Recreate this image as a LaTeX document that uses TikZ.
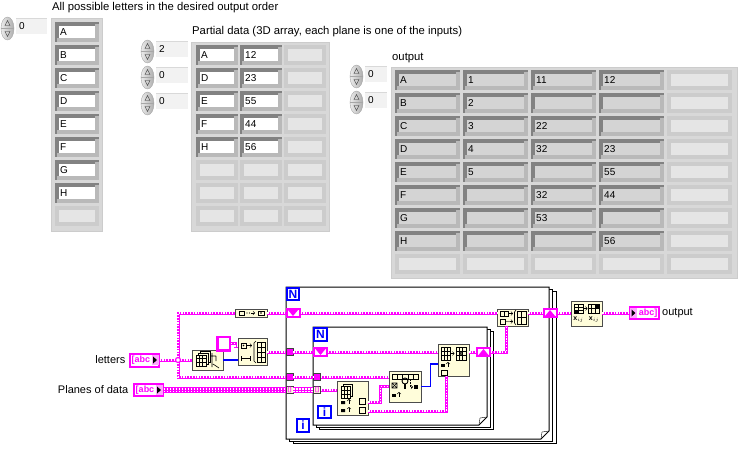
\documentclass[tikz,border=0pt]{standalone}
\usepackage{fontspec}
\setmainfont{Liberation Sans}
\usetikzlibrary{calc, positioning}

\definecolor{lvpink}{RGB}{255,0,255}
\definecolor{lvblue}{RGB}{0,0,255}
\definecolor{lvfunc}{RGB}{255,253,218}
\definecolor{panelgray}{RGB}{216,216,216}
\definecolor{celldark}{RGB}{130,130,130}
\definecolor{celllight}{RGB}{185,185,185}
\definecolor{cellgray}{RGB}{212,212,212}
\definecolor{cellempty}{RGB}{229,229,229}
\definecolor{emptyedge}{RGB}{204,204,204}
\definecolor{boxgray}{RGB}{242,242,242}

\tikzset{
  paneltxt/.style={font=\fontsize{11.3}{13}\selectfont, anchor=west, inner sep=0},
  celltxt/.style={font=\fontsize{10}{12}\selectfont, anchor=west, inner sep=0},
  diagtxt/.style={font=\fontsize{11}{13}\selectfont, inner sep=0},
  cellon/.style={fill=white, draw=celldark, line width=3.5},
  cellgr/.style={fill=cellgray, draw=celldark, line width=3.5},
  celloff/.style={fill=cellempty, draw=emptyedge, line width=3.5},
  lit/.style={draw=celllight, line width=3.5},
  arrframe/.style={fill=panelgray, draw=gray!40},
  numbox/.style={fill=boxgray},
  spin/.pic={
    \shade[left color=gray!15, right color=gray!65, draw=gray!70] (0,0) ellipse [x radius=6.5, y radius=11.5];
    \draw[gray!70] (-6.5,0) -- (6.5,0);
    \draw[gray!40!black, line width=.4] (-2.5,-3) -- (2.5,-3) -- (0,-8) -- cycle;
    \draw[gray!40!black, line width=.4] (-2.5,3) -- (2.5,3) -- (0,8) -- cycle;
  },
  loopfr/.style={draw=black, line width=1, fill=white},
  lvterm/.style={draw=lvblue, line width=2, fill=white, text=lvblue, font=\bfseries\fontsize{12}{12}\selectfont, minimum size=12.5, inner sep=0},
  lvsr/.style={draw=lvpink, line width=2, fill=white, minimum width=13, minimum height=8, inner sep=0},
  srdown/.style={lvsr, path picture={\fill[lvpink] ([xshift=1.5pt,yshift=-1pt]path picture bounding box.north west) -- ([xshift=-1.5pt,yshift=-1pt]path picture bounding box.north east) -- ([yshift=1pt]path picture bounding box.south) -- cycle;}},
  srup/.style={lvsr, path picture={\fill[lvpink] ([xshift=1.5pt,yshift=1pt]path picture bounding box.south west) -- ([xshift=-1.5pt,yshift=1pt]path picture bounding box.south east) -- ([yshift=-1pt]path picture bounding box.north) -- cycle;}},
  tunnel/.style={draw=gray!50!black, fill=lvpink, minimum size=7, inner sep=0, line width=0.8},
  tunarr/.style={tunnel, fill=lvfunc, text=lvpink, font=\bfseries\fontsize{6}{6}\selectfont},
  func/.style={draw=black!70, fill=lvfunc, line width=0.9, inner sep=0},
  strconst/.style={draw=lvpink, line width=2.5, fill=white, inner sep=0},
  ctl/.style={draw=lvpink, line width=2, fill=white, text=lvpink, font=\bfseries\fontsize{9}{9}\selectfont, inner sep=0},
  glyph/.style={draw=black, line width=0.6},
  wire1d/.style={draw=lvpink, line width=3, postaction={draw=white, line width=1.2, dash pattern=on 1.2pt off 1.6pt}},
  wire3d/.style={draw=lvpink, line width=6, postaction={draw=white, line width=3.6, dash pattern=on 1.5pt off 1.5pt}, postaction={draw=lvpink, line width=1}},
  wireblue/.style={draw=lvblue, line width=1.3},
}

\begin{document}
\begin{tikzpicture}[x=1pt, y=-1pt]
\useasboundingbox[fill=white] (0,0) rectangle (746,467);

% front panel
\node[paneltxt] (tLetters) at (52,8) {All possible letters in the desired output order};
\node[paneltxt] (tPartial) at (192,32) {Partial data (3D array, each plane is one of the inputs)};
\node[paneltxt] (tOutput) at (392,58) {output};

\draw[arrframe] (51,18) rectangle (102,231);
\draw[arrframe] (191,42) rectangle (329,231);
\draw[arrframe] (391,67) rectangle (737,278);

\foreach \sx/\sy/\w/\v [count=\n] in {1/17/31/0, 141/40/32/2, 141/66/32/0, 141/92/32/0, 350/65/22/0, 350/91/22/0} {
  \pic at ({\sx+6.5},{\sy+11.5}) {spin};
  \fill[numbox] ({\sx+15},{\sy+1}) rectangle ++(\w,16);
  \draw[gray!30] ({\sx+15},{\sy+1}) -- ++(\w,0);
  \node[celltxt] (idx\n) at ({\sx+18},{\sy+9}) {\v};
}

% letters array
\foreach \t [count=\k from 0] in {A,B,C,D,E,F,G,H} {
  \draw[cellon] (57,{24+23*\k}) rectangle ++(40,16);
  \draw[lit] (97,{24+23*\k}) -- ++(0,16) -- ++(-40,0);
  \node[celltxt] (let\k) at (60,{32+23*\k}) {\t};
}
\draw[celloff] (57,208) rectangle ++(40,16);

% partial data
\foreach \a/\b [count=\k from 0] in {A/12, D/23, E/55, F/44, H/56} {
  \foreach \j in {0,1} {
    \draw[cellon] ({198+44*\j},{47+23*\k}) rectangle ++(38,16);
    \draw[lit] ({236+44*\j},{47+23*\k}) -- ++(0,16) -- ++(-38,0);
  }
  \node[celltxt] (pa\k) at (201,{55+23*\k}) {\a};
  \node[celltxt] (pb\k) at (245,{55+23*\k}) {\b};
}
\foreach \k in {0,...,7} \draw[celloff] (286,{47+23*\k}) rectangle ++(38,16);
\foreach \k in {5,6,7} \foreach \j in {0,1} \draw[celloff] ({198+44*\j},{47+23*\k}) rectangle ++(38,16);

% output array
\foreach \a/\b/\c/\d [count=\k from 0] in {A/1/11/12, B/2/{}/{}, C/3/22/{}, D/4/32/23, E/5/{}/55, F/{}/32/44, G/{}/53/{}, H/{}/{}/56} {
  \foreach \j in {0,...,3} {
    \draw[cellgr] ({397+68*\j},{72+23*\k}) rectangle ++(61,16);
    \draw[lit] ({458+68*\j},{72+23*\k}) -- ++(0,16) -- ++(-61,0);
  }
  \node[celltxt] (oa\k) at (400,{80+23*\k}) {\a};
  \node[celltxt] (ob\k) at (468,{80+23*\k}) {\b};
  \node[celltxt] (oc\k) at (536,{80+23*\k}) {\c};
  \node[celltxt] (od\k) at (604,{80+23*\k}) {\d};
}
\foreach \k in {0,...,8} \draw[celloff] (669,{72+23*\k}) rectangle ++(61,16);
\foreach \j in {0,...,3} \draw[celloff] ({397+68*\j},256) rectangle ++(61,16);

% loop frames
\foreach \d in {7,3.5} \draw[loopfr] ({286+\d},{287+0.7*\d}) rectangle ({549+\d},{439+0.7*\d});
\draw[loopfr] (286,287) -- (549,287) -- (549,431) -- (541,439) -- (286,439) -- cycle;
\draw (541,439) -- (542,432) -- (549,431);
\foreach \d in {6,3} \draw[loopfr] ({313+\d},{327+0.7*\d}) rectangle ({487+\d},{425+0.7*\d});
\draw[loopfr] (313,327) -- (487,327) -- (487,417) -- (479,425) -- (313,425) -- cycle;
\draw (479,425) -- (480,418) -- (487,417);

\node[lvterm] (nOut) at (293,294) {N};
\node[lvterm] (iOut) at (303,425.5) {i};
\node[lvterm] (nIn) at (320.5,334.5) {N};
\node[lvterm] (iIn) at (324.5,412) {i};

% shift registers and tunnels
\node[srdown] (srOL) at (293,313) {};
\node[srup] (srOR) at (550,313) {};
\node[srdown] (srIL) at (320.5,352) {};
\node[srup] (srIR) at (483.5,352) {};
\node[tunnel] (tA) at (289.5,352) {};
\node[tunnel] (tB) at (289.5,377) {};
\node[tunarr] (tC) at (289.5,390) {[]};
\node[tunnel] (tBi) at (317,377) {};
\node[tunarr] (tCi) at (317,390) {[]};

% functions
\node[func, minimum width=32, minimum height=8] (fInit) at (251,313) {};
\node[func, minimum width=31, minimum height=20] (fSize) at (207.5,360) {};
\node[strconst, minimum width=12.5, minimum height=13.5] (fConst) at (223.5,343.5) {};
\node[func, minimum width=29, minimum height=27] (fIArr) at (252.5,352) {};
\node[func, minimum width=31, minimum height=17] (fBuild) at (512.5,317.5) {};
\node[func, minimum width=31, minimum height=25] (fTrans) at (586.5,313.5) {};
\node[func, minimum width=31, minimum height=34] (fIdx) at (352.5,398) {};
\node[func, minimum width=32, minimum height=31] (fSearch) at (405,386.5) {};
\node[func, minimum width=31, minimum height=32] (fRepl) at (453.5,360) {};

% terminals
\node[ctl, minimum width=29, minimum height=13] (letters) at (144,360) {\hspace*{-6pt}[abc};
\node[ctl, minimum width=29, minimum height=12] (planes) at (148,390) {\hspace*{-6pt}[abc};
\node[ctl, minimum width=29, minimum height=12] (out) at (644.5,313) {\hspace*{7pt}abc]};
\node[diagtxt, left=3pt of letters] (lLetters) {letters};
\node[diagtxt, left=4pt of planes] (lPlanes) {Planes of data};
\node[diagtxt, right=2pt of out] (lOut) {output};
\foreach \n in {letters, planes} {
  \fill[lvpink!35] ($(\n.east)+(-8,-5)$) rectangle ($(\n.east)+(-1,5)$);
  \fill ($(\n.east)+(-6.5,-3.5)$) -- ++(4,3.5) -- ++(-4,3.5) -- cycle;
}
\fill[lvpink!35] ($(out.west)+(1,-5)$) rectangle ($(out.west)+(8,5)$);
\fill ($(out.west)+(2.5,-3.5)$) -- ++(4,3.5) -- ++(-4,3.5) -- cycle;

% wires
\coordinate (jn) at (178,360);
\draw[wire1d] (letters.east) -- (jn);
\draw[wire1d] (jn) -- (fSize.west);
\draw[wire1d] (jn) |- (fInit.west);
\draw[wire1d] (jn) |- (tB.west);
\draw[wire1d] (fInit.east) -- (srOL.west);
\draw[wireblue] (fSize.east) -- (fSize.east -| fIArr.west);
\draw[wire1d] (fConst.east) -- ++(4,0) |- ($(fIArr.west)+(0,-6)$);
\draw[wire1d] (fIArr.east) -- (tA.west);
\draw[wire3d] (planes.east) -- (tC.west);
\draw[wire1d] (srOL.east) -- (srOL.east -| fBuild.west);
\draw[wire1d] (srOL.east -| fBuild.east) -- (srOR.west);
\draw[wire1d] (tA.east) -- (srIL.west);
\draw[wire1d] (srIL.east) -- (srIL.east -| fRepl.west);
\draw[wire1d] (srIL.east -| fRepl.east) -- (srIR.west);
\draw[wire1d] (srIR.east) -| ($(fBuild.south)+(-6,0)$);
\draw[wire1d] (tB.east) -- (tBi.west);
\draw[wire1d] (tBi.east) -- (tBi.east -| fSearch.west);
\draw[wire3d] (tC.east) -- (tCi.west);
\draw[wire1d] (tCi.east) -- (tCi.east -| fIdx.west);
\draw[wire1d] ($(fIdx.east)+(0,4)$) -- ++(12,0) |- (fSearch.west);
\draw[wire1d] ($(fIdx.east)+(0,13)$) -| ($(fRepl.south)+(-7,0)$);
\draw[wireblue] (fSearch.east) -- ++(9,0) |- ($(fRepl.west)+(0,4)$);
\draw[wire1d] (srOR.east) -- (srOR.east -| fTrans.west);
\draw[wire1d] (srOR.east -| fTrans.east) -- (out.west);
\draw[lvpink, line width=1.2, fill=white] (jn) circle (2.5);

% icons
\draw[glyph] (239,311) rectangle ++(5,4);
\fill (247,313) circle (.6) (249.5,313) circle (.6);
\draw[glyph, ->] (251,313) -- (255,313);
\draw[glyph] (258,311) rectangle ++(6,4);
\fill (261,313) circle (.9);

\foreach \d in {4,2,0} \draw[glyph, fill=lvfunc] ({196+\d},{355-\d}) rectangle ++(10,11);
\draw[glyph] (199.3,355) -- (199.3,366) (202.7,355) -- (202.7,366) (196,358.7) -- (206,358.7) (196,362.3) -- (206,362.3);
\draw[glyph] (212,353) -- (212,367) (210,356) -- (216,356) (216,356) -- (216,361) (213,364) -- (219,368);

\draw[glyph] (241,343) rectangle ++(5,5);
\fill (243.5,345.5) circle (.9);
\draw[glyph, ->] (247,345.5) -- (252,345.5);
\draw[glyph] (241,356) -- (241,361) (241,358.5) -- (250,358.5) (250,356) -- (250,361);
\draw[glyph] (256,341) -- (254,343) -- (254,361) -- (256,363);
\draw[glyph] (257,342) rectangle (265,362);
\draw[glyph] (261,342) -- (261,362) (257,347) -- (265,347) (257,352) -- (265,352) (257,357) -- (265,357);

\draw[glyph] (500,311) rectangle ++(8,5) (504,311) -- (504,316);
\draw[glyph, ->] (509,313.5) -- (513,313.5);
\draw[glyph] (500,319) rectangle ++(5,5);
\fill (507,321.5) circle (.6) (509,321.5) circle (.6);
\draw[glyph, ->] (510,321.5) -- (513,321.5);
\draw[glyph] (516,310) -- (514.5,312) -- (514.5,323) -- (516,325);
\draw[glyph] (517,311) rectangle (526,324) (521.5,311) -- (521.5,324) (517,317.5) -- (526,317.5);

\draw[glyph] (574,304) rectangle (583,313) (578.5,304) -- (578.5,313) (574,307) -- (583,307) (574,310) -- (583,310);
\fill (574,310) rectangle (578.5,313);
\draw[glyph, ->] (584,308.5) -- (587.5,308.5);
\draw[glyph] (588,304) rectangle (599,313) (591.7,304) -- (591.7,313) (595.3,304) -- (595.3,313) (588,308.5) -- (599,308.5);
\fill (595.3,304) rectangle (599,308.5);
\node[inner sep=0, font=\fontsize{7}{7}\selectfont] (xij1) at (578.5,320) {$\mathbf{x}_{ij}$};
\node[inner sep=0, font=\fontsize{7}{7}\selectfont] (xij2) at (594,320) {$\mathbf{x}_{ij}$};

\draw[glyph, fill=lvfunc] (343,384) rectangle (352,396);
\draw[glyph, fill=lvfunc] (341,386) rectangle (350,398);
\draw[glyph] (344,386) -- (344,398) (347,386) -- (347,398) (341,390) -- (350,390) (341,394) -- (350,394);
\fill (341,401) rectangle (345,404) (341,409) rectangle (345,412);
\draw[glyph, ->] (349,404) -- (349,399);
\draw[glyph, ->] (349,412) -- (349,407);
\draw[glyph] (359,398) rectangle ++(6,6) (359,407) rectangle ++(6,6);

\draw[glyph] (392,374) rectangle (418,379) (397,374) -- (397,379) (402,374) -- (402,379) (408,374) -- (408,379) (413,374) -- (413,379);
\draw[glyph, line width=.9] (405,381) circle (3);
\draw[glyph, line width=1.2] (405,384) -- (405,389);
\draw[glyph] (392,383) rectangle ++(5,5) (392,383) -- (397,388) (397,383) -- (392,388);
\draw[glyph, densely dotted, ->] (410,380) -- (410,387) -- (413,387);
\fill (414,385) rectangle ++(4,4);
\fill (392,394) rectangle ++(4,3);
\draw[glyph, ->] (399,397) -- (399,392);

\draw[glyph] (441,347) rectangle (450,360) (444,347) -- (444,360) (447,347) -- (447,360) (441,351.3) -- (450,351.3) (441,355.6) -- (450,355.6);
\draw[glyph, ->] (451,353.5) -- (454.5,353.5);
\draw[glyph] (456,347) rectangle (466,360) (459.3,347) -- (459.3,360) (462.6,347) -- (462.6,360) (456,351.3) -- (466,351.3) (456,355.6) -- (466,355.6);
\draw[glyph] (459.3,351.3) -- (462.6,355.6) (462.6,351.3) -- (459.3,355.6);
\fill (441,364) rectangle (445,367);
\draw[glyph, ->] (448,367) -- (448,362);
\draw[glyph] (441,370) rectangle (447,375);
\end{tikzpicture}
\end{document}
